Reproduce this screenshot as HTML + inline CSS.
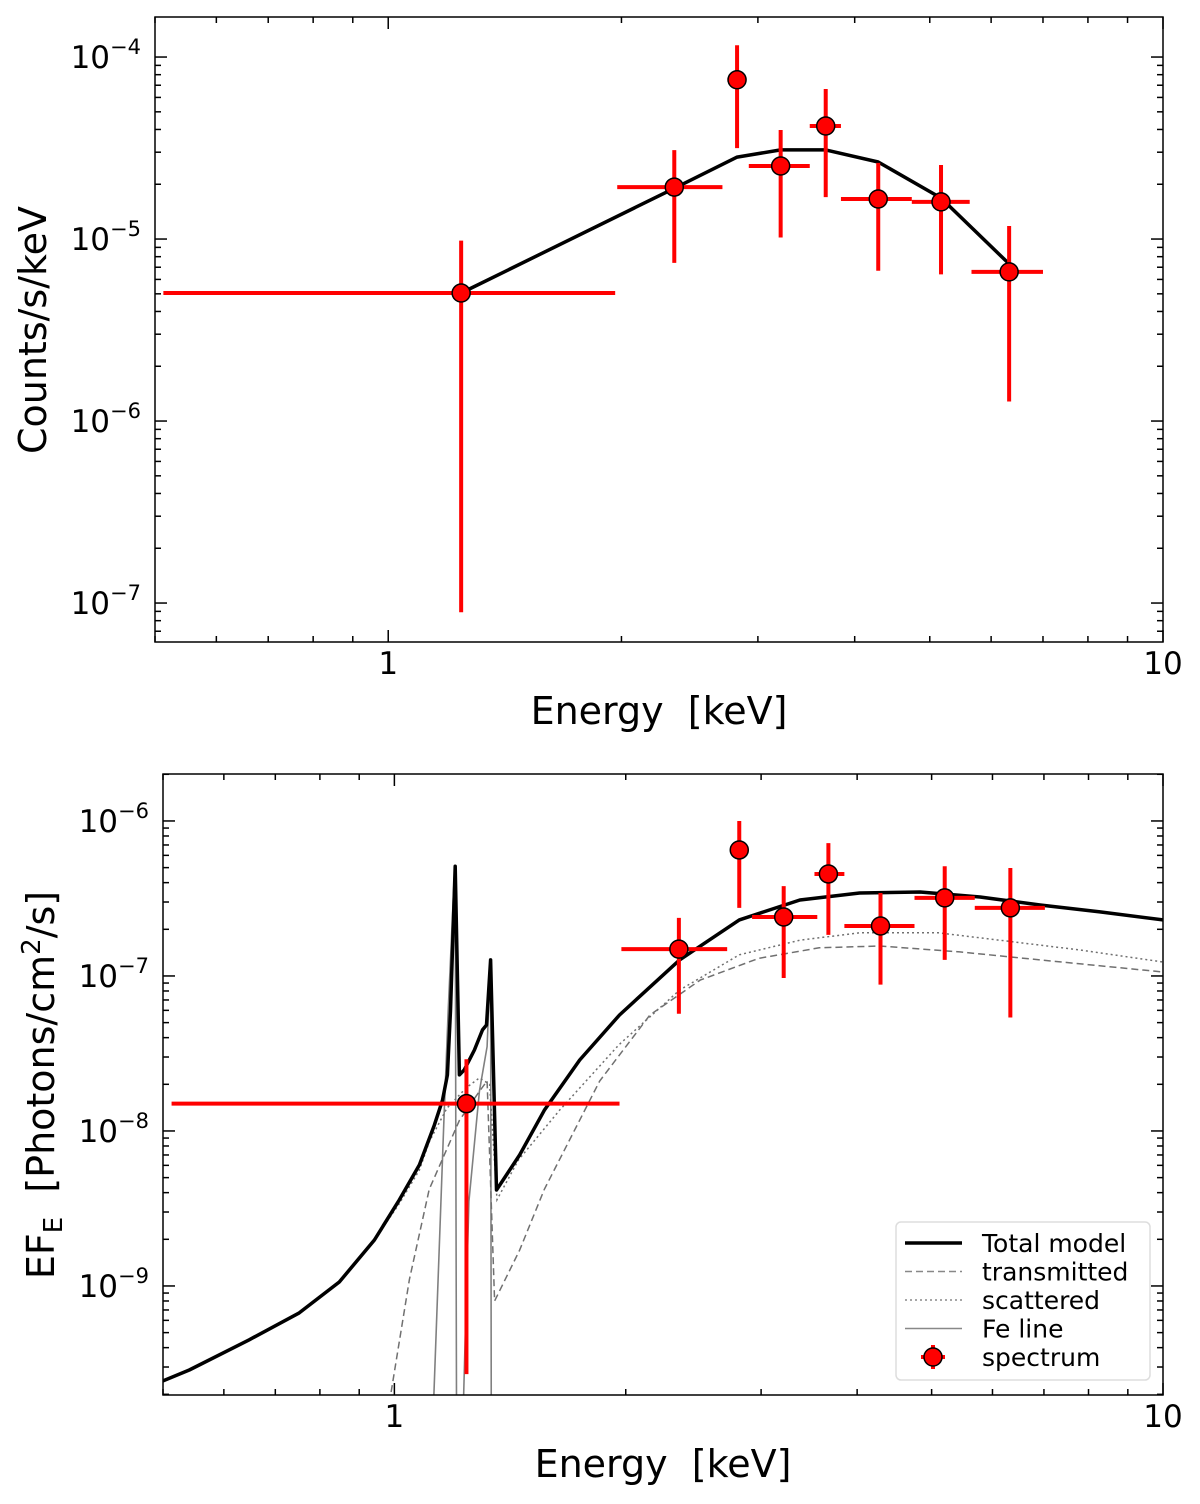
<!DOCTYPE html>
<html><head><meta charset="utf-8"><style>
body{margin:0;background:#fff}
svg{display:block;font-family:"DejaVu Sans","Liberation Sans",sans-serif}
</style></head><body>
<svg id="s" width="1200" height="1504" viewBox="0 0 1200 1504">
<defs>
<clipPath id="c1"><rect x="155" y="17" width="1008" height="625"/></clipPath>
<clipPath id="c2"><rect x="163" y="774" width="1000" height="621"/></clipPath>
</defs>
</svg>
<script>
// ---- Top panel data ----
const topE=[1.242,2.34,2.82,3.21,3.67,4.29,5.17,6.33];
const topV=[5.05e-6,1.93e-5,7.5e-5,2.52e-5,4.18e-5,1.66e-5,1.6e-5,6.6e-6];
const topXlo=[0.5126,1.975,2.74,2.92,3.5,3.84,4.74,5.66];
const topXhi=[1.963,2.70,2.89,3.5,3.84,4.74,5.63,7.0];
const topYhi=[9.8e-6,3.08e-5,1.16e-4,3.97e-5,6.67e-5,2.62e-5,2.55e-5,1.18e-5];
const topYlo=[8.9e-8,7.4e-6,3.16e-5,1.02e-5,1.7e-5,6.7e-6,6.4e-6,1.28e-6];
const topModelE=[1.242,2.34,2.82,3.21,3.67,4.29,5.17,6.33];
const topModelV=[5.05e-6,1.9e-5,2.82e-5,3.09e-5,3.09e-5,2.65e-5,1.68e-5,7.3e-6];
// ---- Bottom panel data ----
const botE=[1.241,2.345,2.81,3.21,3.67,4.29,5.2,6.33];
const botV=[1.5e-8,1.49e-7,6.5e-7,2.4e-7,4.55e-7,2.1e-7,3.19e-7,2.75e-7];
const botXlo=[0.513,1.974,2.76,2.92,3.52,3.85,4.75,5.69];
const botXhi=[1.963,2.71,2.88,3.55,3.85,4.75,5.69,7.02];
const botYhi=[2.9e-8,2.37e-7,1.0e-6,3.8e-7,7.2e-7,3.43e-7,5.1e-7,4.97e-7];
const botYlo=[2.7e-10,5.7e-8,2.75e-7,9.7e-8,1.84e-7,8.8e-8,1.27e-7,5.4e-8];
const totE=[0.5,0.541,0.647,0.752,0.848,0.942,1.015,1.078,1.127,1.155,1.172,1.183,1.2,1.215,1.233,1.271,1.302,1.318,1.334,1.358,1.455,1.567,1.742,1.963,2.35,2.81,3.37,4.03,4.83,5.78,6.92,8.28,10];
const totV=[2.44e-10,2.87e-10,4.49e-10,6.7e-10,1.06e-9,1.98e-9,3.59e-9,6.04e-9,1.09e-8,1.58e-8,2.3e-8,6.0e-8,5.1e-7,2.3e-8,2.48e-8,3.33e-8,4.49e-8,4.83e-8,1.27e-7,4.16e-9,7.0e-9,1.36e-8,2.87e-8,5.6e-8,1.27e-7,2.3e-7,3.09e-7,3.43e-7,3.48e-7,3.23e-7,2.87e-7,2.59e-7,2.3e-7];
const scaE=[0.5,0.541,0.647,0.752,0.848,0.942,1.015,1.078,1.11,1.17,1.24,1.29,1.33,1.36,1.45,1.64,1.96,2.35,2.81,3.37,4.03,5.1,6.13,7.8,10];
const scaV=[2.44e-10,2.87e-10,4.49e-10,6.7e-10,1.06e-9,1.98e-9,3.4e-9,5.6e-9,8.5e-9,1.4e-8,1.9e-8,2.2e-8,2.0e-8,3.6e-9,6.5e-9,1.36e-8,3.6e-8,8.1e-8,1.37e-7,1.7e-7,1.9e-7,1.9e-7,1.7e-7,1.47e-7,1.23e-7];
const traE=[0.98,1.046,1.11,1.215,1.29,1.32,1.35,1.455,1.567,1.85,2.15,2.5,2.98,3.57,4.28,5.44,6.92,10];
const traV=[1.5e-10,1.1e-9,4.2e-9,1.17e-8,1.8e-8,2.1e-8,8e-10,1.7e-9,4.2e-9,2.1e-8,5.6e-8,9.4e-8,1.3e-7,1.52e-7,1.56e-7,1.43e-7,1.27e-7,1.06e-7];
const feE=[1.12,1.16,1.175,1.198,1.2,1.202,1.205,1.226,1.25,1.29,1.32,1.334,1.337];
const feV=[1e-10,1.17e-8,6e-8,5.1e-7,5.1e-7,1e-8,1e-10,1e-10,3.5e-9,1.8e-8,3.5e-8,1.27e-7,1e-10];

const NS='http://www.w3.org/2000/svg';
const svg=document.getElementById('s');
function mk(tag,at,parent){const e=document.createElementNS(NS,tag);for(const k in at)e.setAttribute(k,at[k]);(parent||svg).appendChild(e);return e;}

function panel(P){
  const X=E=>P.x0+(P.x1-P.x0)*(Math.log10(E)-Math.log10(0.5))/(1-Math.log10(0.5));
  const Y=v=>P.y0+(P.yTop-Math.log10(v))*P.dec;
  const g=mk('g',{});
  
  
  const tk=mk('g',{stroke:'#000','stroke-width':1.5},g);
  
  
  const xs=[0.5,0.6,0.7,0.8,0.9,1,2,3,4,5,6,7,8,9,10];
  xs.forEach(E=>{const x=X(E);const maj=(E===1||E===10);const L=maj?12:6;
    mk('line',{x1:x,x2:x,y1:P.y1,y2:P.y1-L},tk);mk('line',{x1:x,x2:x,y1:P.y0,y2:P.y0+L},tk);});
  for(let d=P.decLo;d<=P.decHi;d++){for(let m=1;m<10;m++){const v=m*Math.pow(10,d);const y=Y(v);
    if(y<P.y0-0.5||y>P.y1+0.5)continue;const L=m===1?12:6;
    mk('line',{x1:P.x0,x2:P.x0+L,y1:y,y2:y},tk);mk('line',{x1:P.x1,x2:P.x1-L,y1:y,y2:y},tk);}}
  P.ylabels.forEach(d=>{const t=mk('text',{x:P.x0-14,y:Y(Math.pow(10,d))+11,'text-anchor':'end','font-size':31},g);
    
    t.innerHTML='10<tspan dy="-14" font-size="21">−'+(-d)+'</tspan>';});
  [['1',1],['10',10]].forEach(([s,E])=>{const t=mk('text',{x:X(E),y:P.y1+32,'text-anchor':'middle','font-size':31},g);t.textContent=s;
    });
  const xt=mk('text',{x:(P.x0+P.x1)/2,y:P.y1+82,'text-anchor':'middle','font-size':38},g);
  xt.textContent='Energy\u00a0\u00a0[keV]';
  
  const cg=mk('g',{'clip-path':'url(#'+P.clip+')'},g);
  return {X,Y,cg,g};
}
function line(ax,E,V,at,name){const d=E.map((e,i)=>(i?'L':'M')+ax.X(e).toFixed(1)+','+ax.Y(V[i]).toFixed(1)).join('');
  const p=mk('path',Object.assign({d,fill:'none'},at),ax.cg);}
function points(ax,E,V,xl,xh,yl,yh,parent){for(let i=0;i<E.length;i++){
  const g=mk('g',{},parent);
  mk('line',{x1:ax.X(xl[i]),x2:ax.X(xh[i]),y1:ax.Y(V[i]),y2:ax.Y(V[i]),stroke:'#ff0000','stroke-width':4},g);
  mk('line',{x1:ax.X(E[i]),x2:ax.X(E[i]),y1:ax.Y(yh[i]),y2:ax.Y(yl[i]),stroke:'#ff0000','stroke-width':4},g);
  mk('circle',{cx:ax.X(E[i]),cy:ax.Y(V[i]),r:9,fill:'#ff0000',stroke:'#000','stroke-width':1.5},g);}}

const A=panel({name:'counts-panel',x0:155,x1:1163,y0:17,y1:642,yTop:-3.78,dec:182,decLo:-8,decHi:-4,ylabels:[-4,-5,-6,-7],clip:'c1'});
line(A,topModelE,topModelV,{stroke:'#000','stroke-width':3.5,'stroke-linejoin':'round'},'model-line');
points(A,topE,topV,topXlo,topXhi,topYlo,topYhi,A.cg);
mk('rect',{x:155,y:17,width:1008,height:625,fill:'none',stroke:'#000','stroke-width':1.5},A.g);
const yt1=mk('text',{transform:'translate(46,330) rotate(-90)','text-anchor':'middle','font-size':38},A.g);
yt1.textContent='Counts/s/keV';

const B=panel({name:'flux-panel',x0:163,x1:1163,y0:774,y1:1395,yTop:-5.697,dec:155,decLo:-10,decHi:-6,ylabels:[-6,-7,-8,-9],clip:'c2'});
line(B,feE,feV,{stroke:'#808080','stroke-width':1.6},'fe-line');
line(B,traE,traV,{stroke:'#707070','stroke-width':1.5,'stroke-dasharray':'7,4'},'transmitted-line');
line(B,scaE,scaV,{stroke:'#707070','stroke-width':1.5,'stroke-dasharray':'2,3'},'scattered-line');
line(B,totE,totV,{stroke:'#000','stroke-width':3.5,'stroke-linejoin':'round'},'total-model-line');
points(B,botE,botV,botXlo,botXhi,botYlo,botYhi,B.cg);
mk('rect',{x:163,y:774,width:1000,height:621,fill:'none',stroke:'#000','stroke-width':1.5},B.g);
const yt2=mk('text',{transform:'translate(54,1085) rotate(-90)','text-anchor':'middle','font-size':38},B.g);
yt2.innerHTML='EF<tspan font-size="26" dy="8">E</tspan><tspan dy="-8">\u00a0\u00a0[Photons/cm</tspan><tspan font-size="26" dy="-14">2</tspan><tspan dy="14">/s]</tspan>';


const lg=mk('g',{},B.g);


mk('rect',{x:896,y:1222,width:254,height:158,rx:5,fill:'#fff',stroke:'#ddd','stroke-width':1.5},lg);
const ent=[['Total model',{stroke:'#000','stroke-width':3.5}],['transmitted',{stroke:'#888','stroke-width':1.5,'stroke-dasharray':'7,4'}],['scattered',{stroke:'#888','stroke-width':1.5,'stroke-dasharray':'2,3'}],['Fe line',{stroke:'#888','stroke-width':1.6}],['spectrum',null]];
ent.forEach(([s,at],i)=>{const y=1243+i*28.5;
  const eg=mk('g',{},lg);
  if(at)mk('line',Object.assign({x1:905,x2:962,y1:y,y2:y},at),eg);
  else{mk('line',{x1:921,x2:945,y1:y,y2:y,stroke:'#f00','stroke-width':4},eg);mk('line',{x1:933,x2:933,y1:y-12,y2:y+12,stroke:'#f00','stroke-width':4},eg);
    mk('circle',{cx:933,cy:y,r:9,fill:'#f00',stroke:'#000','stroke-width':1.5},eg);}
  const t=mk('text',{x:982,y:y+9,'font-size':25},eg);t.textContent=s;});
</script>
</body></html>
